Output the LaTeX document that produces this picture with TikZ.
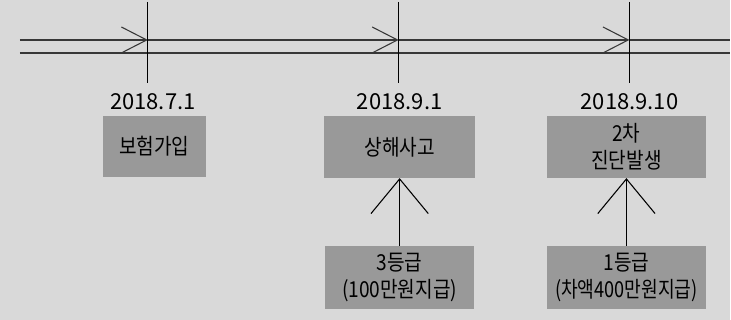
\documentclass[tikz,border=0pt]{standalone}
\usepackage{fontspec}
\setmainfont{Noto Sans CJK KR}[FakeStretch=0.87]
\newfontfamily\datefont{Noto Sans CJK KR}
\usetikzlibrary{arrows.meta}

\begin{document}
\begin{tikzpicture}[x=0.75pt,y=-0.75pt,every node/.style={font=\fontsize{16.5}{20.5}\selectfont}]
\definecolor{bgcolor}{RGB}{217,217,217}
\definecolor{boxcolor}{RGB}{153,153,153}
\definecolor{linecolor}{RGB}{55,55,55}
\tikzset{
  eventbox/.style={fill=boxcolor, inner sep=0pt, align=center},
  datelabel/.style={anchor=base, font=\datefont\fontsize{16.5}{20.5}\selectfont},
  timeline/.style={linecolor, line width=1pt},
  chevron/.style={-{Straight Barb[length=19pt, width=19.5pt, line width=0.8pt]}},
  tickline/.style={black, line width=0.8pt},
  uparrow/.style={black, line width=0.8pt, -{Straight Barb[length=26pt, width=43pt, line width=0.8pt]}}
}
% Background
\fill[bgcolor] (0,0) rectangle (731,320);
% Timeline (two lines)
\coordinate (start) at (20,40);
\coordinate (end) at (731,40);
\coordinate (lowstart) at (20,53);
\coordinate (lowend) at (731,53);
\foreach \name/\x in {t1/148, t2/399, t3/630} {
  \coordinate (\name) at (\x,40);
  \coordinate (\name top) at (\x,2);
  \coordinate (\name bot) at (\x,83);
}
\draw[timeline, chevron] (start) -- (t1);
\draw[timeline, chevron] (t1) -- (t2);
\draw[timeline, chevron] (t2) -- (t3);
\draw[timeline] (t3) -- (end);
\draw[timeline] (lowstart) -- (lowend);
% Ticks
\foreach \name in {t1, t2, t3} {
  \draw[tickline] (\name top) -- (\name bot);
}
% Dates
\foreach \name/\x/\date in {d1/153/2018.7.1, d2/400/2018.9.1, d3/630/2018.9.10} {
  \node[datelabel] (\name) at (\x,110) {\date};
}
% Event boxes
\node[eventbox, minimum width=77.25pt, minimum height=45.75pt] (join) at (154.5,146.5) {보험가입};
\node[eventbox, minimum width=113.25pt, minimum height=46.5pt] (acc) at (400,147) {상해사고};
\node[eventbox, minimum width=120pt, minimum height=46.5pt] (diag) at (627,147) {2차\\진단발생};
% Payment boxes
\node[eventbox, minimum width=111.75pt, minimum height=47.25pt] (g3) at (400,277.5) {3등급\\(100만원지급)};
\node[eventbox, minimum width=120pt, minimum height=47.25pt] (g1) at (627,277.5) {1등급\\\scalebox{0.95}[1]{(차액400만원지급)}};
% Arrows up
\draw[uparrow] (g3.north) -- (acc.south);
\draw[uparrow] (g1.north) -- (diag.south);
\end{tikzpicture}
\end{document}
